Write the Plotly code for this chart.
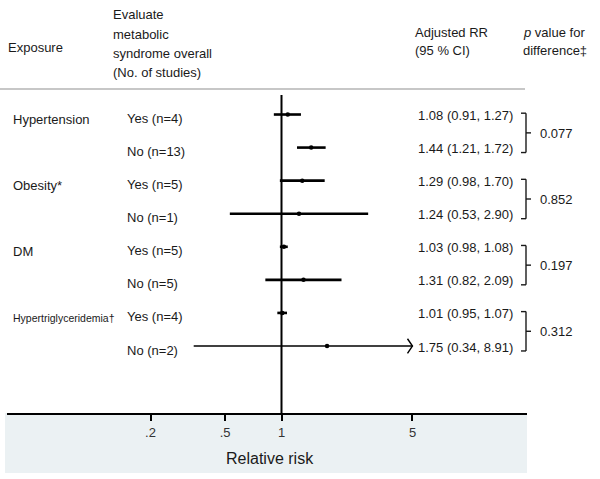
import plotly.graph_objects as go

# ---------------- data ----------------
groups = ["Hypertension", "Obesity*", "DM", "Hypertriglyceridemia†"]
subgroups = ["Yes (n=4)", "No (n=13)", "Yes (n=5)", "No (n=1)",
             "Yes (n=5)", "No (n=5)", "Yes (n=4)", "No (n=2)"]
rr = [1.08, 1.44, 1.29, 1.24, 1.03, 1.31, 1.01, 1.75]
ci_lo = [0.91, 1.21, 0.98, 0.53, 0.98, 0.82, 0.95, 0.34]
ci_hi = [1.27, 1.72, 1.70, 2.90, 1.08, 2.09, 1.07, 8.91]
p_values = ["0.077", "0.852", "0.197", "0.312"]
tick_vals = [0.2, 0.5, 1, 5]
tick_text = [".2", ".5", "1", "5"]
header_mid = ["Evaluate", "metabolic", "syndrome overall", "(No. of studies)"]
header_rr = ["Adjusted RR", "(95 % CI)"]
header_p = ["<i>p</i> value for", "difference‡"]
clip_hi = 5  # display limit for CI lines (arrow beyond)

W, H = 600, 479
def px(p):
    return p / W
def py(p):
    return 1 - p / H

TXT = "#1a1a1a"
FONT = "Liberation Sans, Arial, sans-serif"

fig = go.Figure()

rows = list(range(len(rr)))

# CI lines
xs, ys = [], []
xa, ya = [], []
for i in rows:
    if ci_hi[i] > clip_hi:
        xa += [ci_lo[i], clip_hi, None]
        ya += [i, i, None]
    else:
        xs += [ci_lo[i], ci_hi[i], None]
        ys += [i, i, None]
fig.add_trace(go.Scatter(x=xs, y=ys, mode="lines",
                         line=dict(color="black", width=2.6),
                         hoverinfo="skip", showlegend=False))
fig.add_trace(go.Scatter(x=xa, y=ya, mode="lines",
                         line=dict(color="black", width=1.6),
                         hoverinfo="skip", showlegend=False))
# arrow heads (open chevrons)
hx, hy = [], []
f = 10 ** (-5 / 187.4)
for i in rows:
    if ci_hi[i] > clip_hi:
        hx += [clip_hi * f, clip_hi, clip_hi * f, None]
        hy += [i - 0.22, i, i + 0.22, None]
fig.add_trace(go.Scatter(x=hx, y=hy, mode="lines",
                         line=dict(color="black", width=1.4),
                         hoverinfo="skip", showlegend=False))
# point estimates
fig.add_trace(go.Scatter(x=rr, y=rows, mode="markers",
                         marker=dict(color="black", size=4.5, symbol="circle"),
                         hoverinfo="skip", showlegend=False))

annotations = []
def ann(text, x, y, xanchor="left", yref="paper", size=13, yshift=0, **kw):
    annotations.append(dict(text=text, x=x, y=y, xref="paper", yref=yref,
                            xanchor=xanchor, yanchor="middle", showarrow=False,
                            yshift=yshift,
                            font=dict(size=size, color=TXT, family=FONT), **kw))

# header
ann("Exposure", px(6), py(47))
for k, t in enumerate(header_mid):
    ann(t, px(111), py(15 + 19.3 * k))
for k, t in enumerate(header_rr):
    ann(t, px(413), py(32 + 18 * k))
for k, t in enumerate(header_p):
    ann(t, px(521), py(32 + 18 * k))

# group labels
for g, name in enumerate(groups):
    ann(name, px(11), 2 * g, yref="y", yshift=-5,
        size=10.5 if len(name) > 15 else 13)

# subgroup labels and estimates
for i in rows:
    ann(subgroups[i], px(125), i, yref="y", yshift=-4)
    ann(f"{rr[i]:.2f} ({ci_lo[i]:.2f}, {ci_hi[i]:.2f})", px(515), i,
        xanchor="right", yref="y", yshift=-1)

# p-values
for g, p in enumerate(p_values):
    ann(p, px(538), 2 * g + 0.5, yref="y", yshift=-2)

ann("Relative risk", px(270), py(458), xanchor="center", size=16)

shapes = []
# shaded axis panel
shapes.append(dict(type="rect", xref="paper", yref="paper",
                   x0=px(5), x1=px(527), y0=py(473), y1=py(413),
                   fillcolor="#ebf1f3", line=dict(width=0), layer="below"))
# header rule
shapes.append(dict(type="line", xref="paper", yref="paper",
                   x0=px(0), x1=px(525), y0=py(89), y1=py(89),
                   line=dict(color="#b4b4b4", width=1.5)))
# null line
shapes.append(dict(type="line", xref="x", yref="paper",
                   x0=1, x1=1, y0=py(413), y1=py(95),
                   line=dict(color="black", width=2)))
# brackets
for g in range(len(p_values)):
    top = 2 * g - 0.04
    bot = 2 * g + 1 + 0.15
    mid = (top + bot) / 2
    for (xa0, xa1, y0, y1) in [(521, 526, top, top), (526, 526, top, bot),
                               (521, 526, bot, bot), (526, 531, mid, mid)]:
        shapes.append(dict(type="line", xref="paper", yref="y",
                           x0=px(xa0), x1=px(xa1), y0=y0, y1=y1,
                           line=dict(color=TXT, width=1.4)))

fig.update_layout(
    width=W, height=H, autosize=False,
    margin=dict(l=0, r=0, t=0, b=0),
    paper_bgcolor="white", plot_bgcolor="rgba(0,0,0,0)",
    font=dict(family=FONT, color=TXT, size=13),
    annotations=annotations, shapes=shapes,
    xaxis=dict(type="log", range=[-1.4648, 1.31], domain=[px(7), px(527)],
               showline=True, linewidth=2, linecolor="black",
               ticks="outside", ticklen=6, tickwidth=2, tickcolor="black",
               tickvals=tick_vals, ticktext=tick_text,
               tickfont=dict(size=13, color="#333333", family=FONT),
               showgrid=False, zeroline=False, fixedrange=True),
    yaxis=dict(range=[9.026, -0.59], domain=[py(413), py(95)],
               visible=False, fixedrange=True),
)

fig.write_html("out.html",
               config={"displayModeBar": False},
               post_script="document.body.style.margin='0';document.body.style.padding='0';")
